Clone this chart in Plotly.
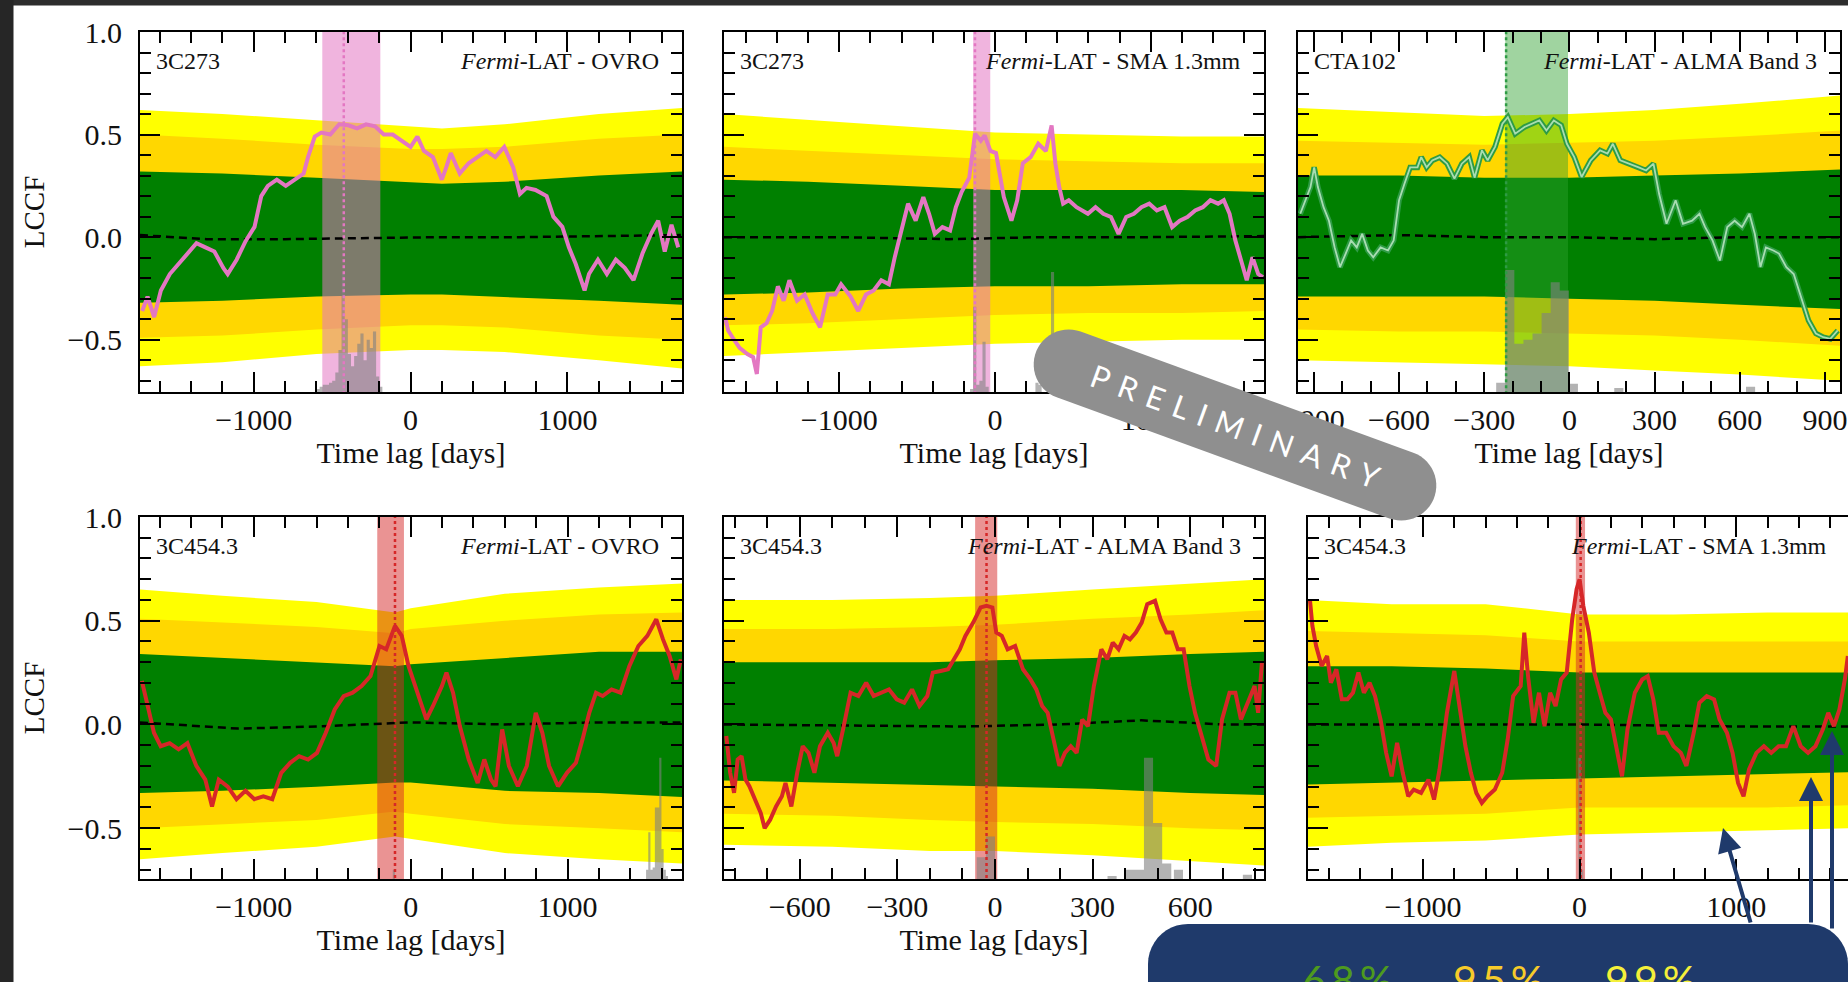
import numpy as np
import plotly.graph_objects as go

W, H = 1848, 982
SERIF = "Liberation Serif, Times New Roman, serif"
SANS = "Lato, Open Sans, sans-serif"
NAVY = "#1F3A6B"
TXT = "#111111"

# ---------------- Panel 1: 3C273  Fermi-LAT - OVRO ----------------
p1_lag = [-1711, -1677, -1635, -1592, -1535, -1478, -1421, -1365, -1308, -1251,
          -1194, -1166, -1109, -1052, -995, -952, -910, -853, -796, -739,
          -682, -654, -611, -569, -512, -455, -398, -341, -284, -227,
          -171, -114, -57, 0, 43, 85, 142, 199, 227, 256,
          313, 370, 426, 483, 540, 597, 654, 697, 739, 796,
          867, 910, 967, 1009, 1052, 1109, 1137, 1194, 1251, 1308,
          1365, 1421, 1478, 1535, 1578, 1620, 1663, 1706]
p1_lccf = [-0.36, -0.29, -0.39, -0.26, -0.18, -0.13, -0.08, -0.03, -0.05, -0.07,
           -0.15, -0.18, -0.11, -0.02, 0.05, 0.20, 0.25, 0.28, 0.25, 0.28,
           0.31, 0.39, 0.49, 0.51, 0.50, 0.55, 0.545, 0.53, 0.55, 0.54,
           0.50, 0.50, 0.47, 0.44, 0.49, 0.42, 0.39, 0.28, 0.34, 0.41,
           0.31, 0.36, 0.39, 0.42, 0.39, 0.44, 0.34, 0.21, 0.24, 0.23,
           0.20, 0.10, 0.05, -0.05, -0.13, -0.26, -0.18, -0.11, -0.18, -0.11,
           -0.15, -0.21, -0.08, 0.02, 0.08, -0.07, 0.06, -0.05]
p1_band_x = [-1725, -1200, -600, 0, 200, 600, 1200, 1730]
p1_u99 = [0.62, 0.60, 0.57, 0.54, 0.53, 0.55, 0.60, 0.63]
p1_u95 = [0.50, 0.48, 0.45, 0.43, 0.43, 0.44, 0.48, 0.50]
p1_u68 = [0.32, 0.31, 0.29, 0.27, 0.26, 0.27, 0.30, 0.32]
p1_l68 = [-0.32, -0.31, -0.29, -0.28, -0.28, -0.29, -0.31, -0.33]
p1_l95 = [-0.49, -0.48, -0.45, -0.43, -0.43, -0.44, -0.48, -0.50]
p1_l99 = [-0.63, -0.61, -0.57, -0.55, -0.55, -0.56, -0.60, -0.64]
p1_mean_x = [-1725, -1300, -800, -300, 200, 700, 1200, 1730]
p1_mean_y = [0.01, -0.01, -0.01, -0.005, 0.0, 0.0, 0.005, 0.01]
p1_span = [-563, -193]
p1_peak = -426
p1_hist_left = [-600, -580, -560, -540, -520, -500, -480, -460, -440, -420, -400,
                -380, -360, -340, -320, -300, -280, -260, -240, -220, -200]
p1_hist_w = 20
p1_hist_top = [-0.74, -0.73, -0.72, -0.72, -0.71, -0.70, -0.66, -0.55, -0.18, -0.40, -0.57,
               -0.63, -0.58, -0.52, -0.47, -0.60, -0.50, -0.54, -0.46, -0.68, -0.73]

# ---------------- Panel 2: 3C273  Fermi-LAT - SMA 1.3mm ----------------
p2_lag = [-1733, -1713, -1676, -1640, -1590, -1553, -1529, -1504, -1467, -1431,
          -1394, -1357, -1320, -1271, -1222, -1172, -1123, -1074, -1025, -988,
          -927, -878, -828, -779, -730, -681, -644, -607, -558, -509,
          -460, -423, -386, -337, -288, -251, -214, -165, -128, -91,
          -66, -29, 7, 57, 106, 143, 179, 229, 278, 327,
          364, 388, 413, 438, 474, 524, 597, 646, 696, 745,
          794, 843, 892, 941, 991, 1040, 1089, 1138, 1187, 1236,
          1286, 1335, 1384, 1433, 1470, 1507, 1544, 1581, 1617, 1654,
          1691, 1721]
p2_lccf = [-0.39, -0.455, -0.50, -0.54, -0.57, -0.585, -0.667, -0.44, -0.42, -0.36,
           -0.24, -0.31, -0.21, -0.31, -0.28, -0.37, -0.44, -0.28, -0.28, -0.23,
           -0.29, -0.36, -0.28, -0.26, -0.21, -0.23, -0.10, 0.016, 0.163, 0.08,
           0.195, 0.114, 0.016, 0.049, 0.033, 0.146, 0.22, 0.29, 0.504, 0.47,
           0.496, 0.42, 0.41, 0.195, 0.08, 0.18, 0.36, 0.39, 0.455, 0.42,
           0.545, 0.36, 0.244, 0.163, 0.18, 0.146, 0.114, 0.146, 0.114, 0.098,
           0.016, 0.098, 0.114, 0.146, 0.163, 0.13, 0.146, 0.049, 0.08, 0.098,
           0.13, 0.146, 0.18, 0.163, 0.18, 0.114, -0.016, -0.114, -0.21, -0.098,
           -0.18, -0.195]
p2_band_x = [-1740, -1200, -600, 0, 600, 1200, 1730]
p2_u99 = [0.60, 0.57, 0.54, 0.51, 0.50, 0.49, 0.49]
p2_u95 = [0.44, 0.42, 0.40, 0.38, 0.37, 0.36, 0.36]
p2_u68 = [0.28, 0.27, 0.25, 0.23, 0.23, 0.23, 0.22]
p2_l68 = [-0.28, -0.27, -0.25, -0.24, -0.24, -0.23, -0.23]
p2_l95 = [-0.43, -0.42, -0.40, -0.38, -0.37, -0.37, -0.36]
p2_l99 = [-0.58, -0.56, -0.54, -0.52, -0.51, -0.50, -0.50]
p2_mean_x = [-1740, -1000, -300, 300, 1000, 1730]
p2_mean_y = [0.0, 0.0, -0.01, 0.0, 0.0, 0.005]
p2_span = [-140, -30]
p2_peak = -128
p2_hist_left = [-160, -140, -120, -100, -80, -60, 260, 280, 360]
p2_hist_w = 20
p2_hist_top = [-0.74, -0.34, -0.72, -0.70, -0.51, -0.73, -0.71, -0.72, -0.17]

# ---------------- Panel 3: CTA102  Fermi-LAT - ALMA Band 3 ----------------
p3_lag = [-948, -931, -912, -899, -886, -866, -847, -827, -808, -788,
          -769, -749, -730, -710, -691, -665, -639, -619, -600, -581,
          -561, -535, -522, -503, -483, -457, -431, -405, -379, -353,
          -334, -308, -288, -262, -236, -217, -191, -158, -132, -106,
          -81, -55, -29, -9, 17, 43, 75, 108, 134, 153,
          179, 212, 244, 270, 296, 316, 342, 374, 400, 432,
          458, 478, 504, 530, 556, 582, 608, 634, 653, 673,
          692, 718, 738, 764, 790, 816, 842, 868, 894, 919,
          945]
p3_lccf = [0.114, 0.18, 0.244, 0.34, 0.244, 0.146, 0.08, -0.05, -0.146, -0.08,
           -0.016, -0.05, 0.016, -0.065, -0.098, -0.05, -0.065, -0.016, 0.18, 0.26,
           0.34, 0.34, 0.39, 0.34, 0.374, 0.39, 0.358, 0.285, 0.358, 0.39,
           0.29, 0.423, 0.374, 0.44, 0.553, 0.585, 0.504, 0.537, 0.553, 0.569,
           0.52, 0.569, 0.545, 0.455, 0.39, 0.293, 0.374, 0.423, 0.407, 0.455,
           0.374, 0.358, 0.34, 0.325, 0.358, 0.21, 0.065, 0.18, 0.065, 0.08,
           0.114, 0.049, -0.016, -0.114, 0.049, 0.08, 0.049, 0.114, 0.016, -0.146,
           -0.05, -0.065, -0.08, -0.146, -0.18, -0.293, -0.406, -0.47, -0.488, -0.496,
           -0.455]
p3_band_x = [-956, -600, -300, 0, 300, 600, 953]
p3_u99 = [0.63, 0.61, 0.59, 0.60, 0.62, 0.65, 0.69]
p3_u95 = [0.47, 0.46, 0.45, 0.46, 0.47, 0.49, 0.52]
p3_u68 = [0.30, 0.30, 0.29, 0.29, 0.30, 0.31, 0.33]
p3_l68 = [-0.29, -0.29, -0.29, -0.30, -0.31, -0.33, -0.35]
p3_l95 = [-0.45, -0.46, -0.46, -0.47, -0.48, -0.50, -0.53]
p3_l99 = [-0.60, -0.61, -0.62, -0.63, -0.65, -0.67, -0.70]
p3_mean_x = [-956, -600, -300, 0, 300, 600, 953]
p3_mean_y = [0.0, 0.01, 0.0, 0.0, -0.01, 0.0, 0.0]
p3_span = [-226, -5]
p3_peak = -223
p3_hist_left = [-258, -226, -194, -162, -130, -98, -66, -34, -2, 158, 622]
p3_hist_w = 32
p3_hist_top = [-0.71, -0.16, -0.52, -0.50, -0.47, -0.37, -0.22, -0.26, -0.715, -0.735, -0.73]

# ---------------- Panel 4: 3C454.3  Fermi-LAT - OVRO ----------------
p4_lag = [-1713, -1679, -1636, -1593, -1536, -1479, -1423, -1366, -1309, -1266,
          -1223, -1166, -1110, -1053, -996, -939, -882, -825, -768, -711,
          -654, -597, -541, -484, -427, -370, -313, -256, -199, -156,
          -100, -57, -14, 43, 100, 142, 199, 228, 270, 313,
          370, 427, 469, 512, 541, 583, 626, 683, 740, 797,
          839, 882, 939, 996, 1053, 1095, 1138, 1181, 1223, 1280,
          1337, 1394, 1451, 1508, 1565, 1608, 1650, 1693, 1721]
p4_lccf = [0.21, 0.09, -0.04, -0.105, -0.09, -0.12, -0.09, -0.20, -0.266, -0.395,
           -0.266, -0.30, -0.36, -0.32, -0.36, -0.346, -0.36, -0.233, -0.185, -0.153,
           -0.169, -0.137, -0.04, 0.072, 0.137, 0.153, 0.185, 0.233, 0.378, 0.362,
           0.475, 0.427, 0.282, 0.153, 0.024, 0.089, 0.185, 0.25, 0.153, -0.008,
           -0.169, -0.282, -0.169, -0.266, -0.298, -0.024, -0.20, -0.298, -0.20, 0.056,
           -0.04, -0.20, -0.298, -0.233, -0.185, -0.072, 0.056, 0.153, 0.137, 0.169,
           0.153, 0.282, 0.378, 0.427, 0.507, 0.41, 0.33, 0.217, 0.314]
p4_band_x = [-1725, -1200, -600, -100, 0, 600, 1200, 1729]
p4_u99 = [0.65, 0.62, 0.59, 0.54, 0.56, 0.63, 0.66, 0.68]
p4_u95 = [0.51, 0.49, 0.47, 0.44, 0.46, 0.50, 0.53, 0.54]
p4_u68 = [0.34, 0.32, 0.30, 0.28, 0.29, 0.32, 0.35, 0.35]
p4_l68 = [-0.33, -0.32, -0.30, -0.28, -0.28, -0.32, -0.33, -0.35]
p4_l95 = [-0.50, -0.48, -0.46, -0.42, -0.43, -0.48, -0.50, -0.52]
p4_l99 = [-0.65, -0.62, -0.59, -0.54, -0.55, -0.62, -0.65, -0.67]
p4_mean_x = [-1725, -1100, -600, 0, 600, 1200, 1729]
p4_mean_y = [0.01, -0.02, -0.01, 0.01, 0.0, 0.01, 0.01]
p4_span = [-213, -43]
p4_peak = -100
p4_hist_left = [-114, 1500, 1514, 1528, 1542, 1556, 1570, 1584, 1598, 1612, 1626]
p4_hist_w = 14
p4_hist_top = [-0.70, -0.70, -0.52, -0.70, -0.69, -0.40, -0.40, -0.16, -0.60, -0.70, -0.73]

# ---------------- Panel 5: 3C454.3  Fermi-LAT - ALMA Band 3 ----------------
p5_lag = [-826, -814, -802, -791, -779, -767, -755, -738, -720, -708,
          -691, -673, -655, -644, -626, -608, -591, -573, -555, -538,
          -514, -496, -485, -467, -444, -420, -396, -373, -349, -326,
          -302, -279, -255, -232, -208, -191, -167, -144, -126, -108,
          -91, -67, -44, -26, -8, 4, 21, 39, 62, 86,
          109, 127, 145, 162, 180, 198, 215, 233, 251, 268,
          286, 304, 327, 345, 362, 380, 398, 415, 433, 451,
          468, 492, 509, 527, 545, 562, 580, 598, 615, 639,
          656, 680, 698, 721, 739, 756, 780, 798, 809, 821]
p5_lccf = [-0.056, -0.233, -0.33, -0.169, -0.153, -0.266, -0.298, -0.362, -0.427, -0.50,
           -0.459, -0.395, -0.346, -0.282, -0.395, -0.233, -0.105, -0.137, -0.233, -0.105,
           -0.04, -0.089, -0.153, -0.024, 0.153, 0.137, 0.201, 0.137, 0.153, 0.169,
           0.121, 0.105, 0.169, 0.089, 0.137, 0.25, 0.258, 0.266, 0.314, 0.362,
           0.427, 0.491, 0.564, 0.572, 0.564, 0.443, 0.427, 0.362, 0.378, 0.266,
           0.217, 0.169, 0.089, 0.056, -0.072, -0.20, -0.137, -0.105, -0.137, 0.024,
           -0.008, 0.185, 0.362, 0.314, 0.395, 0.362, 0.427, 0.41, 0.443, 0.491,
           0.58, 0.596, 0.507, 0.443, 0.443, 0.362, 0.362, 0.185, 0.056, -0.072,
           -0.169, -0.20, 0.024, 0.153, 0.153, 0.024, 0.121, 0.185, 0.056, 0.306]
p5_band_x = [-833, -500, -200, 0, 300, 600, 827]
p5_u99 = [0.60, 0.60, 0.61, 0.62, 0.65, 0.68, 0.70]
p5_u95 = [0.46, 0.46, 0.47, 0.48, 0.51, 0.53, 0.55]
p5_u68 = [0.30, 0.30, 0.30, 0.31, 0.32, 0.34, 0.35]
p5_l68 = [-0.27, -0.28, -0.29, -0.30, -0.31, -0.33, -0.34]
p5_l95 = [-0.43, -0.44, -0.46, -0.47, -0.48, -0.50, -0.51]
p5_l99 = [-0.58, -0.59, -0.61, -0.61, -0.63, -0.66, -0.68]
p5_mean_x = [-833, -400, -100, 200, 450, 700, 827]
p5_mean_y = [0.0, -0.005, -0.01, 0.0, 0.02, 0.0, 0.0]
p5_span = [-61, 7]
p5_peak = -26
p5_hist_left = [-56, -28, 346, 402, 430, 458, 486, 514, 550, 762]
p5_hist_w = 28
p5_hist_top = [-0.64, -0.54, -0.73, -0.70, -0.70, -0.16, -0.475, -0.67, -0.70, -0.725]

# ---------------- Panel 6: 3C454.3  Fermi-LAT - SMA 1.3mm ----------------
p6_lag = [-1722, -1706, -1682, -1647, -1612, -1588, -1553, -1518, -1482, -1447,
          -1412, -1377, -1341, -1306, -1271, -1235, -1200, -1165, -1129, -1094,
          -1059, -1012, -965, -929, -894, -847, -800, -765, -729, -694,
          -659, -624, -588, -541, -494, -459, -424, -376, -353, -329,
          -294, -259, -224, -188, -153, -118, -82, -47, -19, 0,
          24, 59, 94, 129, 165, 200, 235, 271, 306, 353,
          400, 435, 471, 506, 553, 600, 647, 682, 729, 765,
          812, 859, 894, 941, 977, 1012, 1047, 1082, 1129, 1177,
          1224, 1271, 1318, 1365, 1412, 1459, 1506, 1553, 1588, 1624,
          1659, 1694, 1713]
p6_lccf = [0.604, 0.475, 0.378, 0.282, 0.33, 0.201, 0.266, 0.121, 0.121, 0.153,
           0.25, 0.153, 0.201, 0.137, 0.024, -0.137, -0.25, -0.089, -0.233, -0.346,
           -0.314, -0.33, -0.266, -0.362, -0.217, 0.056, 0.258, 0.089, -0.105, -0.233,
           -0.33, -0.378, -0.346, -0.314, -0.233, -0.072, 0.137, 0.185, 0.443, 0.233,
           0.008, 0.153, -0.008, 0.153, 0.089, 0.217, 0.25, 0.507, 0.652, 0.70,
           0.572, 0.443, 0.25, 0.153, 0.056, 0.024, -0.105, -0.25, -0.024, 0.153,
           0.217, 0.233, 0.121, -0.04, -0.04, -0.105, -0.137, -0.20, -0.04, 0.105,
           0.137, 0.121, 0.024, -0.04, -0.137, -0.282, -0.346, -0.217, -0.137, -0.105,
           -0.137, -0.105, -0.105, -0.008, -0.105, -0.137, -0.105, -0.024, 0.056, -0.008,
           0.072, 0.217, 0.33]
p6_band_x = [-1734, -1200, -600, 0, 600, 1200, 1714]
p6_u99 = [0.60, 0.58, 0.58, 0.53, 0.53, 0.54, 0.54]
p6_u95 = [0.45, 0.44, 0.43, 0.40, 0.40, 0.40, 0.40]
p6_u68 = [0.28, 0.28, 0.27, 0.25, 0.25, 0.25, 0.25]
p6_l68 = [-0.29, -0.28, -0.27, -0.26, -0.25, -0.24, -0.23]
p6_l95 = [-0.45, -0.44, -0.43, -0.40, -0.40, -0.40, -0.39]
p6_l99 = [-0.59, -0.57, -0.56, -0.53, -0.52, -0.51, -0.50]
p6_mean_x = [-1734, -1000, 0, 1000, 1714]
p6_mean_y = [0.0, 0.0, 0.0, -0.01, -0.01]
p6_span = [-24, 35]
p6_peak = 7
p6_hist_left = [-8, 8]
p6_hist_w = 16
p6_hist_top = [-0.16, -0.70]

# ---------------- text ----------------
sources = ["3C273", "3C273", "CTA102", "3C454.3", "3C454.3", "3C454.3"]
pairs = ["<i>Fermi</i>-LAT - OVRO", "<i>Fermi</i>-LAT - SMA 1.3mm", "<i>Fermi</i>-LAT - ALMA Band 3",
         "<i>Fermi</i>-LAT - OVRO", "<i>Fermi</i>-LAT - ALMA Band 3", "<i>Fermi</i>-LAT - SMA 1.3mm"]
xlabel = "Time lag [days]"
ylabel = "LCCF"
conf_labels = ["68%", "95%", "99%"]

PINK = "#E377C2"
RED = "#D62728"
GREEN = "#2E9B45"

panels = [
    dict(box=(140, 682, 32, 392), nominal_right=682, xr=[-1725, 1730], yr=[-0.755, 1.0], dt=1000, mdt=200,
         lag=p1_lag, lccf=p1_lccf, bx=p1_band_x, bands=(p1_u99, p1_l99, p1_u95, p1_l95, p1_u68, p1_l68),
         mx=p1_mean_x, my=p1_mean_y, span=p1_span, peak=p1_peak,
         hl=p1_hist_left, hw=p1_hist_w, ht=p1_hist_top, col=PINK, span_col="rgba(227,119,194,0.55)"),
    dict(box=(724, 1264, 32, 392), nominal_right=1264, xr=[-1740, 1728], yr=[-0.755, 1.0], dt=1000, mdt=200,
         lag=p2_lag, lccf=p2_lccf, bx=p2_band_x, bands=(p2_u99, p2_l99, p2_u95, p2_l95, p2_u68, p2_l68),
         mx=p2_mean_x, my=p2_mean_y, span=p2_span, peak=p2_peak,
         hl=p2_hist_left, hw=p2_hist_w, ht=p2_hist_top, col=PINK, span_col="rgba(227,119,194,0.55)"),
    dict(box=(1298, 1840, 32, 392), nominal_right=1840, xr=[-956, 953], yr=[-0.755, 1.0], dt=300, mdt=100,
         lag=p3_lag, lccf=p3_lccf, bx=p3_band_x, bands=(p3_u99, p3_l99, p3_u95, p3_l95, p3_u68, p3_l68),
         mx=p3_mean_x, my=p3_mean_y, span=p3_span, peak=p3_peak,
         hl=p3_hist_left, hw=p3_hist_w, ht=p3_hist_top, col=GREEN, span_col="rgba(44,160,44,0.45)"),
    dict(box=(140, 682, 517, 879), nominal_right=682, xr=[-1725, 1729], yr=[-0.745, 1.0], dt=1000, mdt=200,
         lag=p4_lag, lccf=p4_lccf, bx=p4_band_x, bands=(p4_u99, p4_l99, p4_u95, p4_l95, p4_u68, p4_l68),
         mx=p4_mean_x, my=p4_mean_y, span=p4_span, peak=p4_peak,
         hl=p4_hist_left, hw=p4_hist_w, ht=p4_hist_top, col=RED, span_col="rgba(214,39,40,0.5)"),
    dict(box=(724, 1264, 517, 879), nominal_right=1264, xr=[-833, 827], yr=[-0.745, 1.0], dt=300, mdt=100,
         lag=p5_lag, lccf=p5_lccf, bx=p5_band_x, bands=(p5_u99, p5_l99, p5_u95, p5_l95, p5_u68, p5_l68),
         mx=p5_mean_x, my=p5_mean_y, span=p5_span, peak=p5_peak,
         hl=p5_hist_left, hw=p5_hist_w, ht=p5_hist_top, col=RED, span_col="rgba(214,39,40,0.5)"),
    dict(box=(1308, 1848, 517, 879), nominal_right=1850, xr=[-1734, 1714], yr=[-0.745, 1.0], dt=1000, mdt=200,
         lag=p6_lag, lccf=p6_lccf, bx=p6_band_x, bands=(p6_u99, p6_l99, p6_u95, p6_l95, p6_u68, p6_l68),
         mx=p6_mean_x, my=p6_mean_y, span=p6_span, peak=p6_peak,
         hl=p6_hist_left, hw=p6_hist_w, ht=p6_hist_top, col=RED, span_col="rgba(214,39,40,0.5)"),
]

fig = go.Figure()


def hist_poly(lefts, width, tops, base):
    xs, ys = [], []
    for l, t in zip(lefts, tops):
        xs += [l, l, l + width, l + width, l, None]
        ys += [base, t, t, base, base, None]
    return xs, ys


band_cols = ["#FFFF00", "#FFD700", "#008000"]
annotations = []
layout_axes = {}

for i, p in enumerate(panels, start=1):
    sfx = "" if i == 1 else str(i)
    xa, ya = "x" + sfx, "y" + sfx
    bx = list(p["bx"])
    u99, l99, u95, l95, u68, l68 = p["bands"]
    for (hi, lo), c in zip([(u99, l99), (u95, l95), (u68, l68)], band_cols):
        fig.add_trace(go.Scatter(x=bx + bx[::-1], y=list(hi) + list(lo)[::-1], fill="toself",
                                 fillcolor=c, mode="lines", line=dict(width=0, color=c),
                                 xaxis=xa, yaxis=ya, hoverinfo="skip"))
    a, b = p["span"]
    fig.add_trace(go.Scatter(x=[a, b, b, a, a], y=[-1, -1, 1.2, 1.2, -1], fill="toself",
                             fillcolor=p["span_col"], mode="lines", line=dict(width=0),
                             xaxis=xa, yaxis=ya, hoverinfo="skip"))
    hx, hy = hist_poly(p["hl"], p["hw"], p["ht"], p["yr"][0] - 0.02)
    fig.add_trace(go.Scatter(x=hx, y=hy, fill="toself", fillcolor="rgba(128,128,128,0.6)",
                             mode="lines", line=dict(width=0), xaxis=xa, yaxis=ya, hoverinfo="skip"))
    fig.add_trace(go.Scatter(x=p["mx"], y=p["my"], mode="lines",
                             line=dict(color="black", width=2.5, dash="8px,5px"),
                             xaxis=xa, yaxis=ya, hoverinfo="skip"))
    fig.add_trace(go.Scatter(x=[p["peak"], p["peak"]], y=[-1, 1.2], mode="lines",
                             line=dict(color=p["col"], width=2.5, dash="dot"),
                             xaxis=xa, yaxis=ya, hoverinfo="skip"))
    if p["col"] == GREEN:
        fig.add_trace(go.Scatter(x=p["lag"], y=p["lccf"], mode="lines",
                                 line=dict(color=GREEN, width=5.5), xaxis=xa, yaxis=ya, hoverinfo="skip"))
        fig.add_trace(go.Scatter(x=p["lag"], y=p["lccf"], mode="lines",
                                 line=dict(color="#A9DDB2", width=1.8), xaxis=xa, yaxis=ya, hoverinfo="skip"))
    else:
        fig.add_trace(go.Scatter(x=p["lag"], y=p["lccf"], mode="lines",
                                 line=dict(color=p["col"], width=4), xaxis=xa, yaxis=ya, hoverinfo="skip"))

    L, R, T, B = p["box"]
    tickfont = dict(family=SERIF, size=30, color=TXT)
    xaxis = dict(domain=[L / W, R / W], range=p["xr"], anchor=ya, showgrid=False, zeroline=False,
                 automargin=False,
                 showline=True, linecolor="black", linewidth=2, mirror="allticks",
                 ticks="inside", ticklen=20, tickwidth=2, tickcolor="black",
                 tick0=0, dtick=p["dt"], tickfont=tickfont, ticklabelstandoff=0,
                 minor=dict(ticks="inside", ticklen=11, tickwidth=1.8, tickcolor="black", dtick=p["mdt"], tick0=0))
    if i != 6:
        xaxis["title"] = dict(text=xlabel, font=dict(family=SERIF, size=30, color=TXT), standoff=5)
    yaxis = dict(domain=[1 - B / H, 1 - T / H], range=p["yr"], anchor=xa, showgrid=False, zeroline=False,
                 automargin=False,
                 showline=True, linecolor="black", linewidth=2, mirror=("allticks" if i != 6 else False),
                 ticks="inside", ticklen=20, tickwidth=2, tickcolor="black",
                 tick0=0, dtick=0.5, tickformat=".1f", tickfont=tickfont, ticklabelstandoff=10,
                 showticklabels=(i in (1, 4)),
                 minor=dict(ticks="inside", ticklen=11, tickwidth=1.8, tickcolor="black", dtick=0.1, tick0=0))
    if i in (1, 4):
        yaxis["title"] = dict(text=ylabel, font=dict(family=SERIF, size=29, color=TXT), standoff=14)
    layout_axes["xaxis" + sfx] = xaxis
    layout_axes["yaxis" + sfx] = yaxis

    ylab = 1 - (T + 29) / H
    annotations.append(dict(text=sources[i - 1], x=(L + 14) / W, y=ylab, xref="paper", yref="paper",
                            xanchor="left", yanchor="middle", showarrow=False,
                            font=dict(family=SERIF, size=24, color=TXT)))
    annotations.append(dict(text=pairs[i - 1], x=(p["nominal_right"] - 21) / W, y=ylab, xref="paper", yref="paper",
                            xanchor="right", yanchor="middle", showarrow=False,
                            font=dict(family=SERIF, size=24, color=TXT)))


# ---------------- overlay decorations ----------------
def px_path(points):
    return "M " + " L ".join(f"{x / W:.5f},{1 - y / H:.5f}" for x, y in points) + " Z"


def pill_points(cx, cy, half_len, r, ang_deg, n=28):
    a = np.radians(ang_deg)
    ux, uy = np.cos(a), np.sin(a)
    vx, vy = -uy, ux
    c2 = (cx + half_len * ux, cy + half_len * uy)
    c1 = (cx - half_len * ux, cy - half_len * uy)
    pts = []
    for t in np.linspace(-np.pi / 2, np.pi / 2, n):
        pts.append((c2[0] + r * (np.cos(t) * ux + np.sin(t) * vx), c2[1] + r * (np.cos(t) * uy + np.sin(t) * vy)))
    for t in np.linspace(np.pi / 2, 3 * np.pi / 2, n):
        pts.append((c1[0] + r * (np.cos(t) * ux + np.sin(t) * vx), c1[1] + r * (np.cos(t) * uy + np.sin(t) * vy)))
    return pts


def rounded_box(x0, y0, x1, y1, r):
    pts = [(x0, y1), (x0, y0 + r)]
    for t in np.linspace(np.pi, 1.5 * np.pi, 12):
        pts.append((x0 + r + r * np.cos(t), y0 + r + r * np.sin(t)))
    for t in np.linspace(1.5 * np.pi, 2 * np.pi, 12):
        pts.append((x1 - r + r * np.cos(t), y0 + r + r * np.sin(t)))
    pts.append((x1, y1))
    return pts


PILL_ANGLE = 20.0
shapes = [
    dict(type="rect", xref="paper", yref="paper", x0=0, x1=1, y0=1 - 5.5 / H, y1=1,
         fillcolor="#2d2d2d", line=dict(width=0), layer="above"),
    dict(type="rect", xref="paper", yref="paper", x0=0, x1=13.5 / W, y0=0, y1=1,
         fillcolor="#262626", line=dict(width=0), layer="above"),
    dict(type="path", xref="paper", yref="paper", path=px_path(pill_points(1235, 425, 177, 35, PILL_ANGLE)),
         fillcolor="#8f8f8f", line=dict(width=0), layer="above"),
    dict(type="path", xref="paper", yref="paper", path=px_path(rounded_box(1148, 924, 1848, 982, 40)),
         fillcolor=NAVY, line=dict(width=0), layer="above"),
]

sp = "\u2004"
annotations.append(dict(text=sp.join("PRELIMINARY"), x=1235 / W, y=1 - 426 / H, xref="paper", yref="paper",
                        xanchor="center", yanchor="middle", showarrow=False, textangle=PILL_ANGLE,
                        font=dict(family=SANS, size=31, color="white")))

conf_cols = ["#4E9A1E", "#F7CB2A", "#F5F03A"]
conf_x = [1347, 1498, 1650]
for t, c, x in zip(conf_labels, conf_cols, conf_x):
    annotations.append(dict(text="\u2009".join(t), x=x / W, y=1 - 953 / H, xref="paper", yref="paper",
                            xanchor="center", yanchor="top", showarrow=False,
                            font=dict(family=SANS, size=41, color=c)))

arrows = [((1723, 828), (1751, 924)), ((1811, 777), (1811, 924)), ((1832, 731), (1832, 930))]
for (hx_, hy_), (tx, ty) in arrows:
    annotations.append(dict(text="", x=hx_ / W, y=1 - hy_ / H, xref="paper", yref="paper",
                            ax=tx - hx_, ay=ty - hy_, axref="pixel", ayref="pixel",
                            showarrow=True, arrowhead=2, arrowsize=1.2, arrowwidth=4, arrowcolor=NAVY,
                            standoff=0, startstandoff=0))

fig.update_layout(width=W, height=H, margin=dict(l=0, r=0, t=0, b=0, pad=0), autosize=False,
                  paper_bgcolor="white", plot_bgcolor="white", showlegend=False,
                  shapes=shapes, annotations=annotations, hovermode=False, **layout_axes)

fig.write_html("out.html")
